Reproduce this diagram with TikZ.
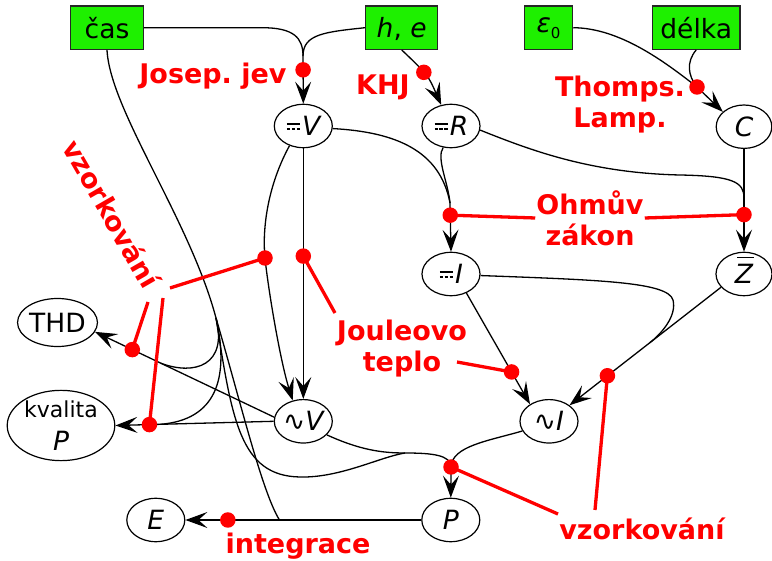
\documentclass[tikz,border=0pt]{standalone}
\usepackage{fontspec}
\setmainfont{DejaVu Sans}
\usetikzlibrary{arrows.meta,shapes.geometric,calc}
\frenchspacing

\definecolor{srcgreen}{RGB}{30,240,0}
\definecolor{notered}{RGB}{255,0,0}

% direct-current sign: solid bar over a dashed bar
\newcommand\dcsign{\tikz[baseline=0pt,x=1pt,y=1pt]{%
  \draw[line width=1.5pt] (0,11.5)--(13,11.5);
  \draw[line width=1.5pt,dash pattern=on 3.2pt off 1.7pt] (0,6.5)--(13,6.5);}\kern1.5pt}
% italic Z with a bar over it
\newcommand\zbar{\ooalign{{\itshape Z}\cr\hidewidth\kern0.12em\rule[0.95em]{0.62em}{1.8pt}\hidewidth\cr}}

\begin{document}
\begin{tikzpicture}[x=1pt,y=-1pt,
  srcbox/.style={draw=black!85,fill=srcgreen,line width=1.2pt,minimum height=43.3pt,
    inner sep=0pt,font=\fontsize{26.5}{30}\selectfont},
  quantity/.style={ellipse,draw,line width=1.2pt,minimum width=58pt,minimum height=43.4pt,
    inner sep=0pt,font=\fontsize{26.5}{30}\selectfont},
  edgeline/.style={line width=1.3pt},
  arrowed/.style={-{Stealth[length=22pt,width=16pt,inset=9pt]}},
  rednote/.style={text=notered,font=\fontsize{27}{31}\selectfont\bfseries,inner sep=1pt,align=center},
  redlead/.style={draw=notered,line width=3.3pt},
  redpoint/.style={circle,fill=notered,inner sep=0pt,minimum size=15.5pt}]

\useasboundingbox (0,0) rectangle (772,561);

% input quantities
\node[srcbox,minimum width=72.6pt] (cas) at (107,27.7) {čas};
\node[srcbox,minimum width=72pt,text depth=0pt] (he) at (401.7,27.7) {{\itshape h}, {\itshape e}};
\node[srcbox,minimum width=48.3pt] (eps) at (548.5,27.7) {{\itshape ε}\raisebox{-6pt}{\fontsize{15}{15}\selectfont 0}};
\node[srcbox,minimum width=87.7pt] (len) at (696.2,27.7) {délka};

% derived quantities
\node[quantity] (dV) at (303.3,126) {\dcsign\itshape V};
\node[quantity] (dR) at (451,126) {\dcsign\itshape R};
\node[quantity,minimum width=55.6pt] (C) at (744,126.7) {\itshape C};
\node[quantity] (dI) at (451,274) {\dcsign\itshape I};
\node[quantity,minimum width=56pt] (Z) at (744,274) {\zbar};
\node[quantity,minimum width=77pt,minimum height=48pt] (thd) at (57.5,322.5) {THD};
\node[quantity,minimum width=107.6pt,minimum height=67.6pt,align=center] (kP) at (61,425.5)
  {{\fontsize{22}{26}\selectfont kvalita}\\[3pt]{\itshape P}};
\node[quantity] (aV) at (303.3,421.3) {∿\itshape V};
\node[quantity] (aI) at (549,421.3) {∿\itshape I};
\node[quantity] (E) at (155.8,520) {\itshape E};
\node[quantity] (P) at (450.8,520) {\itshape P};

% constants into the DC quantities
\coordinate (jA) at (303,56);
\draw[edgeline] (cas.east) -- (262,27.7) .. controls (294,27.7) and (303,38) .. (jA);
\draw[edgeline] (he.west) .. controls (325,32) and (303,34) .. (jA);
\draw[edgeline,arrowed] (jA) -- coordinate[pos=0.29] (k1) (dV.north);
\draw[edgeline,arrowed] (he.south) .. controls (428,75) .. coordinate[pos=0.42] (k2) (dR.115);

\coordinate (jB) at (697,87);
\draw[edgeline] (eps.east) .. controls (620,28) and (665,62) .. (jB);
\draw[edgeline] (len.south) .. controls (686,62) and (688,76) .. (jB);
\draw[edgeline,arrowed] (jB) -- (C.145);

\coordinate (jC) at (450,203);
\draw[edgeline] (dV.-5) .. controls (395,132) and (440,150) .. (jC);
\draw[edgeline] (dR.250) .. controls (436,158) and (448,182) .. (jC);
\draw[edgeline,arrowed] (jC) -- coordinate[pos=0.25] (k4) (dI.north);

\coordinate (jD) at (744,198);
\draw[edgeline] (dR.-8) .. controls (530,150) and (590,173) .. (680,175)
  .. controls (733,176) and (744,182) .. (jD);
\draw[edgeline] (C.south) -- (jD);
\draw[edgeline,arrowed] (jD) -- coordinate[pos=0.31] (k5) (Z.north);

% DC to AC
\draw[edgeline,arrowed] (dV.south) -- coordinate[pos=0.43] (k6) (aV.north);
\draw[edgeline,arrowed] (dV.235) .. controls (268,185) and (262,228) .. (265,258) coordinate (k8)
  .. controls (268,288) and (280,360) .. (aV.117);
\draw[edgeline,arrowed] (dI.309) -- coordinate[pos=0.71] (k7) (aI.138);
\draw[edgeline,arrowed] (Z.210) -- coordinate[pos=0.47] (jE) coordinate[pos=0.75] (k12) (aI.38);
\draw[edgeline] (dI.-3) .. controls (600,280) and (668,282) .. (673,300)
  .. controls (677,316) and (661.5,333.6) .. (jE);

% power
\coordinate (jG) at (405,453);
\coordinate (jF) at (451,467);
\draw[edgeline] (aV.-30) .. controls (360,450) and (382,453) .. (jG)
  .. controls (432,453) and (451,455) .. (jF);
\draw[edgeline] (aI.200) .. controls (488,441) and (452,446) .. (jF);
\draw[edgeline,arrowed] (jF) -- (P.north);

% THD, quality, energy
\draw[edgeline,arrowed] (aV.172) -- coordinate[pos=0.632] (jT) coordinate[pos=0.792] (k9) (thd.-14);
\draw[edgeline,arrowed] (aV.west) -- coordinate[pos=0.716] (jK) coordinate[pos=0.785] (k10) (kP.east);
\draw[edgeline,arrowed] (P.west) -- coordinate[pos=0.601] (jU) coordinate[pos=0.82] (k13) (E.east);

% time feeds the sampled quantities
\coordinate (jS) at (216,318);
\draw[edgeline] (cas.south) .. controls (110,110) and (190,220) .. (jS);
\draw[edgeline] (jS) .. controls (228,365) and (195,376) .. (jT);
\draw[edgeline] (jS) .. controls (230,380) and (215,420) .. (jK);
\draw[edgeline] (jS) .. controls (232,420) and (240,476) .. (300,477)
  .. controls (340,478) and (380,457) .. (jG);
\draw[edgeline] (jS) .. controls (240,400) and (262,492) .. (jU);

% labels of the laws
\node[rednote] (josep) at (213,76) {Josep. jev};
\node[rednote] (khj) at (383,87) {KHJ};
\node[rednote] (thomps) at (620,105) {Thomps.\\Lamp.};
\node[rednote] (ohm) at (590,218) {Ohmův\\zákon};
\node[rednote] (joule) at (402,349) {Jouleovo\\teplo};
\node[rednote,rotate=-60] (vzl) at (112,214) {vzorkování};
\node[rednote] (vzr) at (642,529) {vzorkování};
\node[rednote] (integ) at (298,546) {integrace};

% leader lines
\coordinate (jl1) at (335,313);
\coordinate (jl2) at (457,362);
\coordinate (vl1) at (170,288);
\coordinate (vl2) at (148,302);
\coordinate (vl3) at (163,298);
\coordinate (vr1) at (558,514);
\coordinate (vr2) at (595,510);
\draw[redlead] (ohm.west) -- (k4);
\draw[redlead] (ohm.east) -- (k5);
\draw[redlead] (jl1) -- (k6);
\draw[redlead] (jl2) -- (k7);
\draw[redlead] (vl1) -- (k8);
\draw[redlead] (vl2) -- (k9);
\draw[redlead] (vl3) -- (k10);
\draw[redlead] (vr1) -- (jF);
\draw[redlead] (vr2) -- (k12);

% marker dots
\foreach \p in {k1,k2,jB,k4,k5,k6,k7,k8,k9,k10,jF,k12,k13}
  \node[redpoint] (dot-\p) at (\p) {};
\end{tikzpicture}
\end{document}
